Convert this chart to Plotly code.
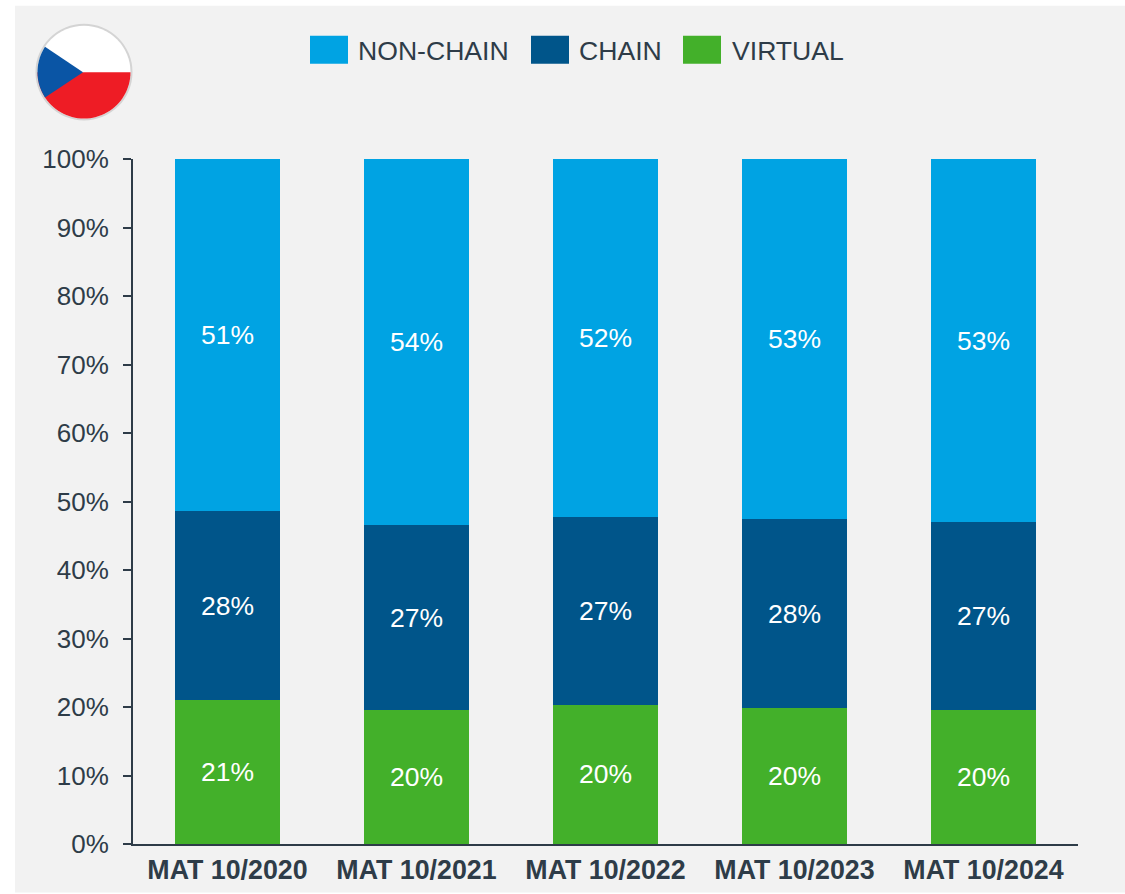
import math
import plotly.graph_objects as go

# Share of spend by channel, moving annual totals
periods = ["MAT 10/2020", "MAT 10/2021", "MAT 10/2022", "MAT 10/2023", "MAT 10/2024"]
virtual = [21.0, 19.6, 20.3, 19.8, 19.6]
chain = [27.6, 26.9, 27.4, 27.6, 27.4]
non_chain = [51.4, 53.5, 52.3, 52.6, 53.0]

series_names = ["VIRTUAL", "CHAIN", "NON-CHAIN"]
series_colors = ["#43b02a", "#00558a", "#00a3e3"]
legend_order = ["NON-CHAIN", "CHAIN", "VIRTUAL"]
legend_swatch_left = [310, 531, 683]
legend_label_left = [356, 577, 730]

FONT = "Liberation Sans"
TEXT = "#2e3c48"
W, H = 1125, 894
LEFT, RIGHT, TOP, BOTTOM = 133, 1078, 158.5, 844.5


def px(x):
    return (x - LEFT) / (RIGHT - LEFT)


def py(y):
    return (BOTTOM - y) / (BOTTOM - TOP)


def rect(x0, y0, x1, y1, color, layer="below"):
    return dict(type="rect", xref="paper", yref="paper", x0=px(x0), x1=px(x1),
                y0=py(y0), y1=py(y1), fillcolor=color, line_width=0, layer=layer)


def arc_path(cx, cy, r, start_deg, end_deg, steps=48):
    pts = []
    for i in range(steps + 1):
        a = math.radians(start_deg + (end_deg - start_deg) * i / steps)
        pts.append((cx + r * math.cos(a), cy + r * math.sin(a)))
    return pts


def polygon(points, color):
    d = "M " + " L ".join(f"{px(x):.5f},{py(y):.5f}" for x, y in points) + " Z"
    return dict(type="path", xref="paper", yref="paper", path=d, fillcolor=color,
                line_width=0, layer="above")


fig = go.Figure()
for name, values, color in zip(series_names, [virtual, chain, non_chain], series_colors):
    fig.add_bar(
        x=periods, y=values, name=name, marker=dict(color=color, line_width=0),
        texttemplate="%{y:.0f}%", textposition="inside", insidetextanchor="middle",
        textangle=0, textfont=dict(family=FONT, size=26.5, color="white"),
        hoverinfo="x+y+name",
    )

# Panel, legend swatches and the round Czech flag badge
shapes = [rect(15, 5, 1125, 893, "#f2f2f2")]
for left, name in zip(legend_swatch_left, legend_order):
    color = series_colors[series_names.index(name)]
    shapes.append(rect(left, 35, left + 38, 63, color, layer="above"))

FX, FY, FR = 84, 71.5, 46.5
shapes.append(dict(type="circle", xref="paper", yref="paper",
                   x0=px(FX - FR - 2), x1=px(FX + FR + 2),
                   y0=py(FY - FR - 2), y1=py(FY + FR + 2),
                   fillcolor="#d4d4d4", line_width=0, layer="above"))
shapes.append(dict(type="circle", xref="paper", yref="paper",
                   x0=px(FX - FR), x1=px(FX + FR), y0=py(FY - FR), y1=py(FY + FR),
                   fillcolor="white", line_width=0, layer="above"))
shapes.append(polygon(arc_path(FX, FY, FR, 0, 180), "#ee1c25"))
triangle_tip = (FX - 1, FY)
blue_arc = arc_path(FX, FY, FR, 147, 213)
shapes.append(polygon([triangle_tip] + blue_arc, "#0a55a5"))

annotations = [
    dict(x=px(left), y=py(50), xref="paper", yref="paper", text=name,
         showarrow=False, xanchor="left", yanchor="middle",
         font=dict(family=FONT, size=26.6, color=TEXT))
    for left, name in zip(legend_label_left, legend_order)
]

fig.update_layout(
    width=W, height=H, barmode="stack", bargap=0.444, showlegend=False,
    paper_bgcolor="white", plot_bgcolor="rgba(0,0,0,0)",
    margin=dict(l=LEFT, r=W - RIGHT, t=TOP, b=H - BOTTOM, pad=0, autoexpand=False),
    shapes=shapes, annotations=annotations,
    font=dict(family=FONT, color=TEXT),
    xaxis=dict(
        type="category", showgrid=False, zeroline=False, showline=True,
        linecolor=TEXT, linewidth=2, ticks="", ticklabelstandoff=1,
        tickfont=dict(family=FONT, size=26.8, color=TEXT, weight=700),
    ),
    yaxis=dict(
        range=[0, 100], dtick=10, ticksuffix="%", showgrid=False, zeroline=False,
        showline=True, linecolor=TEXT, linewidth=2, ticks="outside", ticklen=8,
        tickwidth=2, tickcolor=TEXT, ticklabelstandoff=9,
        tickfont=dict(family=FONT, size=26, color=TEXT),
    ),
)

fig.write_html("out.html", config=dict(displayModeBar=False))
